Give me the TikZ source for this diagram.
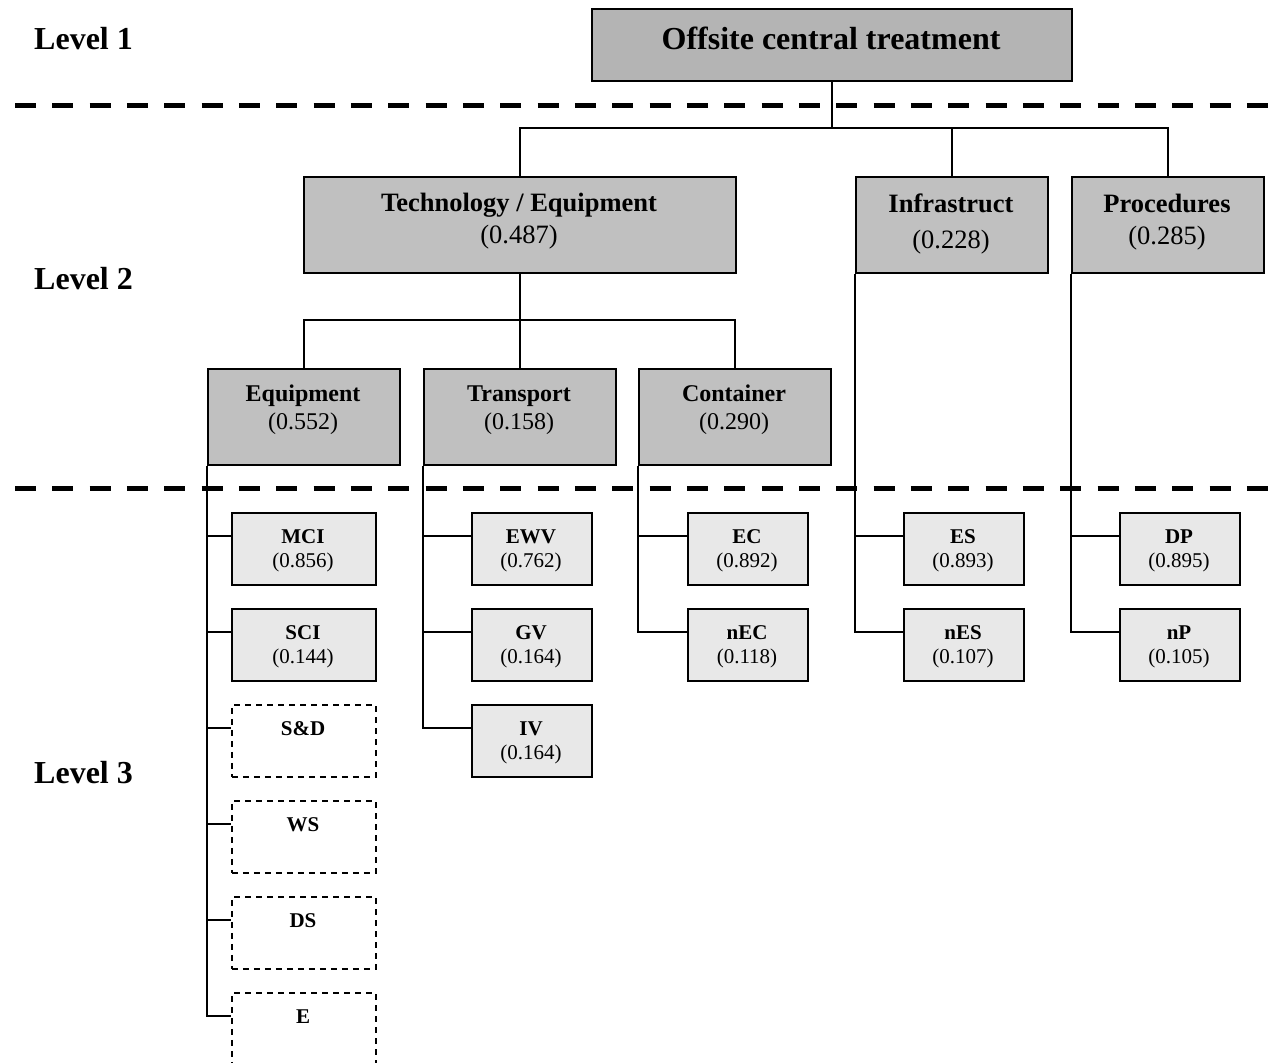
\documentclass[tikz,border=0pt]{standalone}
\usepackage{fontspec}
\setmainfont{Liberation Serif}
\usetikzlibrary{calc}
\definecolor{topgray}{RGB}{180,180,180}
\definecolor{midgray}{RGB}{192,192,192}
\definecolor{lightgray}{RGB}{232,232,232}
\begin{document}
\begin{tikzpicture}[x=1pt,y=-1pt,
  box/.style={draw, line width=2pt, rectangle, inner sep=0pt, anchor=north west},
  topbox/.style={box, fill=topgray, minimum width=480pt, minimum height=72pt},
  lvtwo/.style={box, fill=midgray, minimum height=96pt},
  grpbox/.style={box, fill=midgray, minimum width=192pt, minimum height=96pt},
  leaf/.style={box, fill=lightgray, minimum height=72pt},
  emptyleaf/.style={box, dash pattern=on 6pt off 5pt, line width=1.6pt, minimum width=144pt, minimum height=72pt},
  conn/.style={line width=2pt},
  sep/.style={line width=5pt, dash pattern=on 21pt off 16.33pt},
  txt/.style={anchor=base, inner sep=0pt},
  ftop/.style={txt, font=\fontsize{32}{36}\selectfont\bfseries},
  flvl/.style={txt, font=\fontsize{32}{36}\selectfont\bfseries, anchor=base west},
  ftwo/.style={txt, font=\fontsize{26.5}{30}\selectfont\bfseries},
  vtwo/.style={txt, font=\fontsize{26.5}{30}\selectfont},
  fgrp/.style={txt, font=\fontsize{24}{28}\selectfont\bfseries},
  vgrp/.style={txt, font=\fontsize{24}{28}\selectfont},
  fleaf/.style={txt, font=\fontsize{21}{24}\selectfont\bfseries},
  vleaf/.style={txt, font=\fontsize{21}{24}\selectfont}
]
\useasboundingbox (0,0) rectangle (1273,1062);

% level labels
\node[flvl] (l1) at (34,50) {Level 1};
\node[flvl] (l2) at (34,289) {Level 2};
\node[flvl] (l3) at (34,783) {Level 3};

% separators
\coordinate (s1a) at (15,106);
\coordinate (s1b) at (1269,106);
\coordinate (s2a) at (15,488);
\coordinate (s2b) at (1269,488);

% level 1
\node[topbox] (top) at (591,8) {};
\node[ftop] (topT) at (831,50) {Offsite central treatment};

% level 2
\node[lvtwo, minimum width=432pt] (tech) at (303,176) {};
\node[ftwo] (techT) at (519,211) {Technology / Equipment};
\node[vtwo] (techV) at (519,243) {(0.487)};
\node[lvtwo, minimum width=192pt] (infra) at (855,176) {};
\node[ftwo] (infraT) at (951,212) {Infrastruct};
\node[vtwo] (infraV) at (951,248) {(0.228)};
\node[lvtwo, minimum width=192pt] (proc) at (1071,176) {};
\node[ftwo] (procT) at (1167,212) {Procedures};
\node[vtwo] (procV) at (1167,244) {(0.285)};

% level 2 sub groups
\node[grpbox] (equip) at (207,368) {};
\node[fgrp] (equipT) at (303,401) {Equipment};
\node[vgrp] (equipV) at (303,429) {(0.552)};
\node[grpbox] (transp) at (423,368) {};
\node[fgrp] (transpT) at (519,401) {Transport};
\node[vgrp] (transpV) at (519,429) {(0.158)};
\node[grpbox] (cont) at (638,368) {};
\node[fgrp] (contT) at (734,401) {Container};
\node[vgrp] (contV) at (734,429) {(0.290)};

% level 3 leaves
\node[leaf, minimum width=144pt] (mci) at (231,512) {};
\node[fleaf] (mciT) at (303,543) {MCI};
\node[vleaf] (mciV) at (303,567) {(0.856)};
\node[leaf, minimum width=144pt] (sci) at (231,608) {};
\node[fleaf] (sciT) at (303,639) {SCI};
\node[vleaf] (sciV) at (303,663) {(0.144)};
\node[emptyleaf] (sd) at (231,704) {};
\node[fleaf] (sdT) at (303,735) {S\&D};
\node[emptyleaf] (ws) at (231,800) {};
\node[fleaf] (wsT) at (303,831) {WS};
\node[emptyleaf] (ds) at (231,896) {};
\node[fleaf] (dsT) at (303,927) {DS};
\node[emptyleaf] (ee) at (231,992) {};
\node[fleaf] (eeT) at (303,1023) {E};

\node[leaf, minimum width=120pt] (ewv) at (471,512) {};
\node[fleaf] (ewvT) at (531,543) {EWV};
\node[vleaf] (ewvV) at (531,567) {(0.762)};
\node[leaf, minimum width=120pt] (gv) at (471,608) {};
\node[fleaf] (gvT) at (531,639) {GV};
\node[vleaf] (gvV) at (531,663) {(0.164)};
\node[leaf, minimum width=120pt] (iv) at (471,704) {};
\node[fleaf] (ivT) at (531,735) {IV};
\node[vleaf] (ivV) at (531,759) {(0.164)};

\node[leaf, minimum width=120pt] (ec) at (687,512) {};
\node[fleaf] (ecT) at (747,543) {EC};
\node[vleaf] (ecV) at (747,567) {(0.892)};
\node[leaf, minimum width=120pt] (nec) at (687,608) {};
\node[fleaf] (necT) at (747,639) {nEC};
\node[vleaf] (necV) at (747,663) {(0.118)};

\node[leaf, minimum width=120pt] (es) at (903,512) {};
\node[fleaf] (esT) at (963,543) {ES};
\node[vleaf] (esV) at (963,567) {(0.893)};
\node[leaf, minimum width=120pt] (nes) at (903,608) {};
\node[fleaf] (nesT) at (963,639) {nES};
\node[vleaf] (nesV) at (963,663) {(0.107)};

\node[leaf, minimum width=120pt] (dp) at (1119,512) {};
\node[fleaf] (dpT) at (1179,543) {DP};
\node[vleaf] (dpV) at (1179,567) {(0.895)};
\node[leaf, minimum width=120pt] (np) at (1119,608) {};
\node[fleaf] (npT) at (1179,639) {nP};
\node[vleaf] (npV) at (1179,663) {(0.105)};

% buses
\coordinate (bus1) at (0,128);
\coordinate (bus2) at (0,320);

% connectors level 1 -> 2
\draw[conn] (top.south) -- (top.south |- bus1) -| (tech.north);
\draw[conn] (top.south |- bus1) -| (infra.north);
\draw[conn] (top.south |- bus1) -| (proc.north);

% connectors tech -> groups
\draw[conn] (tech.south) -- (tech.south |- bus2) -| (equip.north);
\draw[conn] (tech.south |- bus2) -| (cont.north);
\draw[conn] (tech.south) -- (transp.north);

% connectors to leaves
\foreach \p/\c in {equip/mci, equip/sci, equip/sd, equip/ws, equip/ds, equip/ee,
                   transp/ewv, transp/gv, transp/iv,
                   cont/ec, cont/nec,
                   infra/es, infra/nes,
                   proc/dp, proc/np}
  \draw[conn] (\p.south west) |- ([yshift=-24pt]\c.north west);

% separators on top
\draw[sep] (s1a) -- (s1b);
\draw[sep] (s2a) -- (s2b);
\end{tikzpicture}
\end{document}
